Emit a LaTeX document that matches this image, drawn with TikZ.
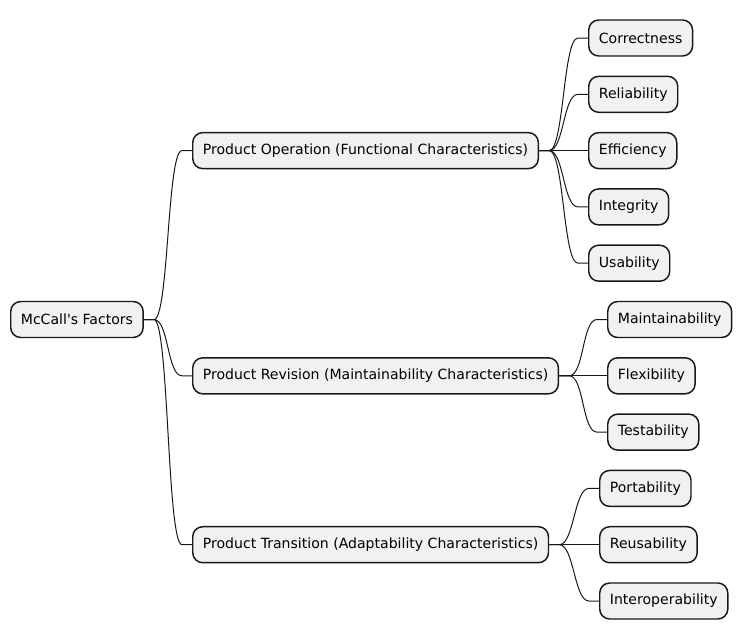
\documentclass[tikz,border=0pt]{standalone}
\usepackage{fontspec}
\setmainfont{DejaVu Sans}
\usetikzlibrary{calc}

\definecolor{boxfill}{HTML}{F1F1F1}
\definecolor{boxline}{HTML}{181818}

\tikzset{
    topic/.style={draw=boxline, fill=boxfill, line width=1.1pt, rounded corners=7.5pt,
        anchor=west, minimum height=27pt, inner xsep=7.6pt, inner ysep=0pt,
        font=\fontsize{10.55}{12}\selectfont, text=black},
    link/.style={draw=boxline, line width=0.75pt}
}

% Ramo curvo da un nodo al figlio
\newcommand{\branch}[2]{%
    \draw[link] (#1.east) -- ($(#1.east)+(10,0)$)
        .. controls ($(#1.east)+(25,0)$) and ($(#2.west)+(-25,0)$) .. ($(#2.west)+(-10,0)$)
        -- (#2.west);}

\begin{document}
\begin{tikzpicture}[x=0.75pt, y=-0.75pt]
    \useasboundingbox (0,0) rectangle (742,640);

    % Radice
    \node[topic] (root) at (10,319.5) {McCall\textquotesingle s Factors};

    % Primo livello
    \node[topic] (oper) at (192,150.6) {Product Operation (Functional Characteristics)};
    \node[topic] (revi) at (192,375.8) {Product Revision (Maintainability Characteristics)};
    \node[topic] (tran) at (192,544.7) {Product Transition (Adaptability Characteristics)};

    % Secondo livello
    \node[topic] (corr) at (588,38)    {Correctness};
    \node[topic] (reli) at (588,94.3)  {Reliability};
    \node[topic] (effi) at (588,150.6) {Efficiency};
    \node[topic] (inte) at (588,206.9) {Integrity};
    \node[topic] (usab) at (588,263.2) {Usability};
    \node[topic] (main) at (607,319.5) {Maintainability};
    \node[topic] (flex) at (607,375.8) {Flexibility};
    \node[topic] (test) at (607,432.1) {Testability};
    \node[topic] (port) at (599,488.4) {Portability};
    \node[topic] (reus) at (599,544.7) {Reusability};
    \node[topic] (intr) at (599,601)   {Interoperability};

    % Rami
    \foreach \child in {oper,revi,tran}
        {\branch{root}{\child}}
    \foreach \child in {corr,reli,effi,inte,usab}
        {\branch{oper}{\child}}
    \foreach \child in {main,flex,test}
        {\branch{revi}{\child}}
    \foreach \child in {port,reus,intr}
        {\branch{tran}{\child}}
\end{tikzpicture}
\end{document}
